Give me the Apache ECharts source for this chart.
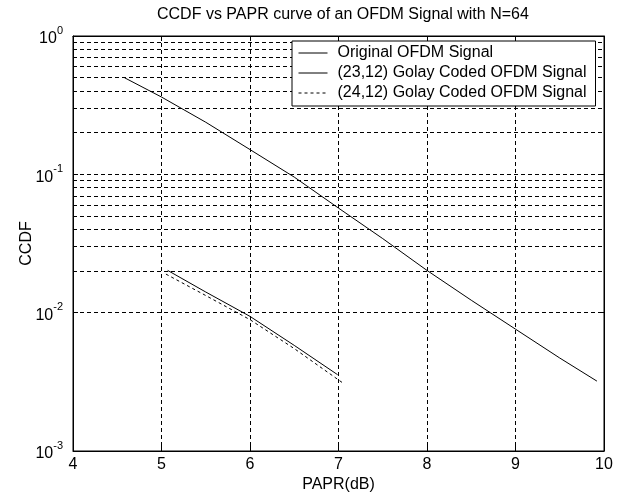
<!DOCTYPE html>
<html>
<head>
<meta charset="utf-8">
<script src="https://cdn.jsdelivr.net/npm/echarts@6/dist/echarts.min.js"></script>
<style>html,body{margin:0;padding:0;background:#fff;}#c{width:620px;height:498px;}</style>
</head>
<body>
<div id="c"></div>
<script>
const titleText = 'CCDF vs PAPR curve of an OFDM Signal with N=64';
const seriesNames = ['Original OFDM Signal', '(23,12) Golay Coded OFDM Signal', '(24,12) Golay Coded OFDM Signal'];
const paprOriginal = [4.58, 5, 5.5, 6, 6.5, 7, 7.5, 8, 8.5, 9, 9.5, 9.92];
const ccdfOriginal = [0.5, 0.362, 0.238, 0.151, 0.0955, 0.057, 0.0343, 0.0202, 0.0123, 0.0076, 0.0047, 0.0032];
const paprGolay23 = [5.07, 5.5, 6, 6.5, 6.99];
const ccdfGolay23 = [0.0202, 0.0141, 0.0094, 0.0058, 0.00356];
const paprGolay24 = [5.05, 5.5, 6, 6.5, 7.05];
const ccdfGolay24 = [0.019, 0.0133, 0.0089, 0.0055, 0.0031];
const xTicks = [4, 5, 6, 7, 8, 9, 10];
const minorGrid = [0.002,0.003,0.004,0.005,0.006,0.007,0.008,0.009,
                   0.02,0.03,0.04,0.05,0.06,0.07,0.08,0.09,
                   0.2,0.3,0.4,0.5,0.6,0.7,0.8,0.9];

const FONT = 'Liberation Sans, Arial, sans-serif';
const FS = 16;
const dash = {color:'#000', width:1, type:[4,3]};
function pairs(xs, ys){ return xs.map((x,i)=>[x, ys[i]]); }

const chart = echarts.init(document.getElementById('c'), null, {renderer:'canvas'});
chart.setOption({
  animation:false,
  backgroundColor:'#fff',
  textStyle:{fontFamily:FONT, color:'#000'},
  title:{text:titleText, left:152, top:2,
    textStyle:{fontFamily:FONT, fontSize:FS, fontWeight:'normal', color:'#000'}},
  grid:{left:73, top:36, right:16, bottom:44, show:true, borderColor:'#000', borderWidth:1, backgroundColor:'#fff'},
  legend:{
    data:seriesNames, orient:'vertical', left:292, top:41, z:50,
    itemWidth:29, itemHeight:13, itemGap:2,
    padding:[3,9,4,6],
    backgroundColor:'#fff', borderColor:'#000', borderWidth:1,
    itemStyle:{color:'rgba(0,0,0,0)', borderColor:'rgba(0,0,0,0)', borderWidth:0, opacity:0},
    lineStyle:{width:1},
    textStyle:{fontFamily:FONT, fontSize:FS, color:'#000', lineHeight:18, padding:[0,0,0,5]},
    selectedMode:false
  },
  xAxis:[{
    type:'value', min:xTicks[0], max:xTicks[xTicks.length-1], interval:1,
    name:'PAPR(dB)', nameLocation:'middle', nameGap:26, nameMoveOverlap:false,
    nameTextStyle:{fontFamily:FONT, fontSize:FS, color:'#000'},
    axisLine:{lineStyle:{color:'#000', width:1}},
    axisTick:{inside:true, length:5, lineStyle:{color:'#000'}},
    axisLabel:{fontFamily:FONT, fontSize:FS, color:'#000', margin:6},
    splitLine:{show:true, lineStyle:dash}
  },{
    type:'value', position:'top', min:xTicks[0], max:xTicks[xTicks.length-1], interval:1,
    axisLine:{lineStyle:{color:'#000'}},
    axisTick:{inside:true, length:5, lineStyle:{color:'#000'}},
    axisLabel:{show:false}, splitLine:{show:false}
  }],
  yAxis:[{
    type:'log', logBase:10, min:0.001, max:1, interval:1,
    name:'CCDF', nameLocation:'middle', nameGap:38, nameMoveOverlap:false,
    nameTextStyle:{fontFamily:FONT, fontSize:FS, color:'#000'},
    axisLine:{lineStyle:{color:'#000', width:1}},
    axisTick:{inside:true, length:5, lineStyle:{color:'#000'}},
    axisLabel:{
      margin:10, color:'#000',
      formatter:function(v){ const e = Math.round(Math.log10(v)); return '{b|10}{s|' + e + '}'; },
      rich:{
        b:{fontFamily:FONT, fontSize:FS, color:'#000', lineHeight:22, verticalAlign:'bottom'},
        s:{fontFamily:FONT, fontSize:11, color:'#000', lineHeight:6, verticalAlign:'top'}
      }
    },
    splitLine:{show:true, lineStyle:dash}
  },{
    type:'log', logBase:10, min:0.001, max:1, interval:1, position:'right',
    axisLine:{lineStyle:{color:'#000'}},
    axisTick:{inside:true, length:5, lineStyle:{color:'#000'}},
    axisLabel:{show:false}, splitLine:{show:false}
  }],
  series:[
    {
      name:seriesNames[0], type:'line', data:pairs(paprOriginal, ccdfOriginal),
      symbol:'none', smooth:false, lineStyle:{color:'#000', width:1, type:'solid'},
      itemStyle:{color:'#000'},
      markLine:{
        silent:true, symbol:['none','none'], label:{show:false}, z:1,
        lineStyle:dash,
        data:minorGrid.map(v=>({yAxis:v}))
      },
      z:3
    },
    {
      name:seriesNames[1], type:'line', data:pairs(paprGolay23, ccdfGolay23),
      symbol:'none', lineStyle:{color:'#000', width:1, type:'solid'}, itemStyle:{color:'#000'}, z:3
    },
    {
      name:seriesNames[2], type:'line', data:pairs(paprGolay24, ccdfGolay24),
      symbol:'none', lineStyle:{color:'#000', width:1, type:[3,3]}, itemStyle:{color:'#000'}, z:3
    }
  ]
});
</script>
</body>
</html>
